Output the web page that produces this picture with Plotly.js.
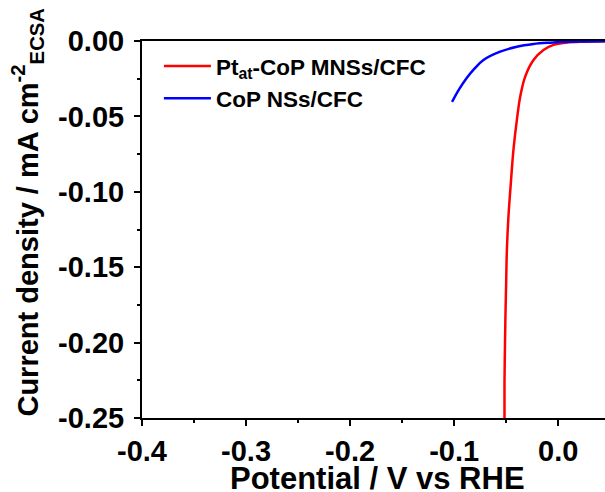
<!DOCTYPE html>
<html>
<head>
<meta charset="utf-8">
<script src="https://cdn.plot.ly/plotly-3.0.1.min.js"></script>
<style>html,body{margin:0;padding:0;background:#fff}#chart{width:605px;height:492px}</style>
</head>
<body>
<div id="chart"></div>
<script>
const ptPotential = [-0.0516, -0.0516, -0.0512, -0.0507, -0.0500, -0.0493, -0.0478, -0.0455, -0.0430, -0.0397, -0.0365, -0.0317, -0.0237, -0.0141, -0.0045, 0.008, 0.025, 0.045];
const ptCurrent   = [-0.2500, -0.2265, -0.2046, -0.1826, -0.1603, -0.1384, -0.1164, -0.0942, -0.0722, -0.0523, -0.0369, -0.0236, -0.0126, -0.0060, -0.0026, -0.0011, -0.0005, -0.0002];
const copPotential = [-0.102, -0.095, -0.0881, -0.080, -0.0718, -0.0558, -0.0397, -0.0237, -0.0077, 0.008, 0.025, 0.045];
const copCurrent   = [-0.0404, -0.0318, -0.0247, -0.0180, -0.0126, -0.0071, -0.0038, -0.0020, -0.0011, -0.0005, -0.0003, -0.0002];
const seriesNames = ['Pt<sub>at</sub>-CoP MNSs/CFC', 'CoP NSs/CFC'];
const xTicks = [-0.4, -0.3, -0.2, -0.1, 0.0];
const xTickText = ['-0.4', '-0.3', '-0.2', '-0.1', '0.0'];
const yTicks = [0.00, -0.05, -0.10, -0.15, -0.20, -0.25];
const yTickText = ['0.00', '-0.05', '-0.10', '-0.15', '-0.20', '-0.25'];
const xTitle = 'Potential / V vs RHE';
const yTitle = 'Current density / mA cm<sup>-2</sup><sub>ECSA</sub>';

const fontFam = 'Arial, "Liberation Sans", sans-serif';
const traces = [
  {x: ptPotential, y: ptCurrent, name: seriesNames[0], mode: 'lines', line: {color: '#ff0000', width: 2.5, shape: 'spline'}},
  {x: copPotential, y: copCurrent, name: seriesNames[1], mode: 'lines', line: {color: '#0000ff', width: 2.5, shape: 'spline'}}
];
const layout = {
  width: 605, height: 492,
  margin: {l: 142, r: 0, t: 41, b: 74},
  paper_bgcolor: '#fff', plot_bgcolor: '#fff',
  font: {family: fontFam, color: '#000', weight: 'bold'},
  showlegend: true,
  legend: {x: 0.0365, y: 0.99, xanchor: 'left', yanchor: 'top', bgcolor: 'rgba(0,0,0,0)',
           font: {family: fontFam, size: 22.5, color: '#000', weight: 'bold'}, itemwidth: 47, tracegroupgap: 0},
  xaxis: {
    range: [-0.4, 0.045], tickvals: xTicks, ticktext: xTickText,
    showline: true, linecolor: '#000', linewidth: 2, mirror: true,
    ticks: 'outside', ticklen: 6, tickwidth: 2, tickcolor: '#000',
    minor: {dtick: 0.05, ticks: 'outside', ticklen: 3, tickwidth: 2, tickcolor: '#000', showgrid: false},
    showgrid: false, zeroline: false,
    tickfont: {family: fontFam, size: 29, weight: 'bold'}
  },
  yaxis: {
    range: [-0.25, 0.0], tickvals: yTicks, ticktext: yTickText,
    showline: true, linecolor: '#000', linewidth: 2, mirror: false,
    ticks: 'outside', ticklen: 6, tickwidth: 2, tickcolor: '#000',
    minor: {dtick: 0.025, ticks: 'outside', ticklen: 3, tickwidth: 2, tickcolor: '#000', showgrid: false},
    showgrid: false, zeroline: false, ticklabelstandoff: 4,
    tickfont: {family: fontFam, size: 29, weight: 'bold'}
  },
  annotations: [
    {text: yTitle, xref: 'paper', yref: 'paper', x: 0, y: 0.545, xshift: -115, textangle: -90,
     showarrow: false, xanchor: 'center', yanchor: 'middle', font: {family: fontFam, size: 29, weight: 'bold', color: '#000'}},
    {text: xTitle, xref: 'paper', yref: 'paper', x: 0.5076, y: 0, yshift: -60, textangle: 0,
     showarrow: false, xanchor: 'center', yanchor: 'middle', font: {family: fontFam, size: 31, weight: 'bold', color: '#000'}}
  ]
};
Plotly.newPlot('chart', traces, layout, {displayModeBar: false, staticPlot: true});
</script>
</body>
</html>
